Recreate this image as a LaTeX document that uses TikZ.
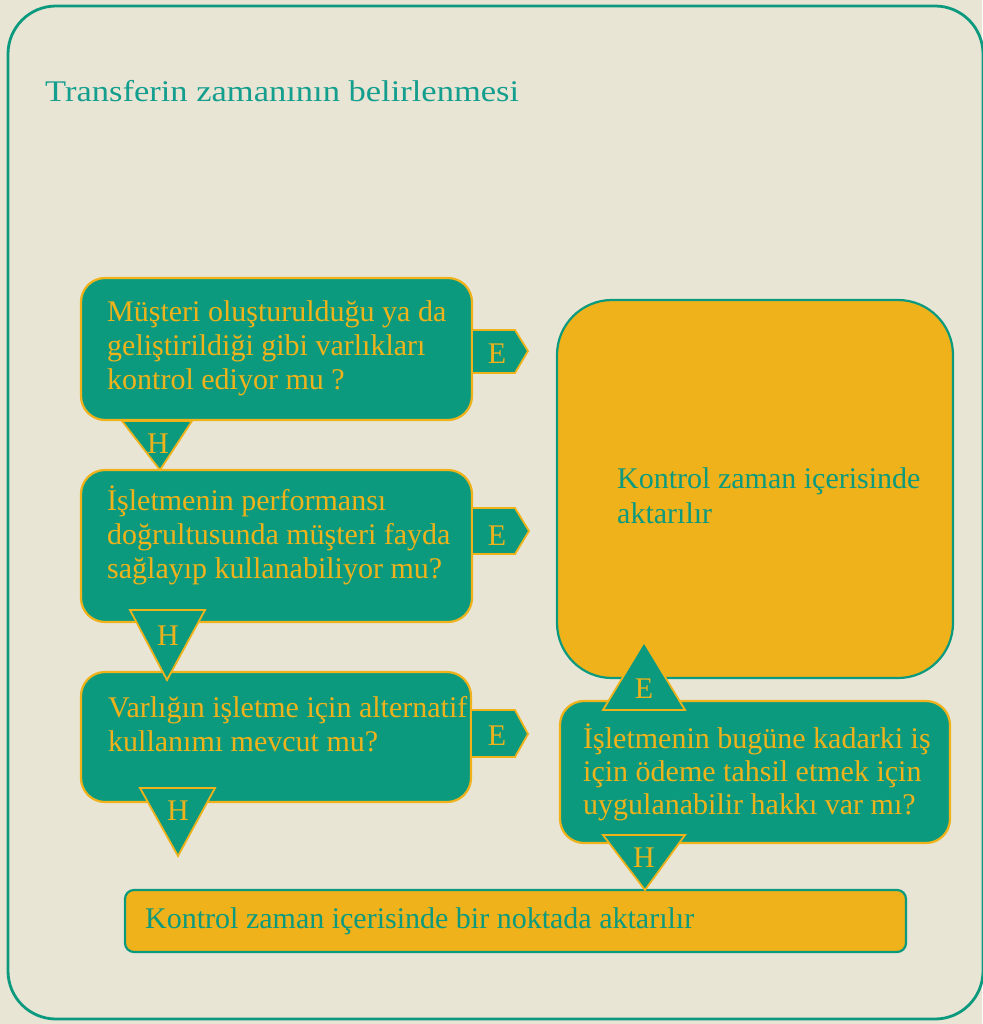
\documentclass[tikz,border=0pt]{standalone}
\usepackage{fontspec}
\setmainfont{Liberation Serif}
\newfontfamily\titlefont[FakeStretch=1.15]{Liberation Serif}
\definecolor{bg}{HTML}{E9E5D5}
\definecolor{tealc}{HTML}{0C9A7F}
\definecolor{titlec}{HTML}{139E8E}
\definecolor{gold}{HTML}{EFB21A}
\begin{document}
\begin{tikzpicture}[x=1pt,y=-1pt,
  qbox/.style={draw=gold, fill=tealc, line width=2.2pt, rounded corners=24pt, inner sep=0pt},
  abox/.style={draw=tealc, fill=gold, line width=2.2pt, inner sep=0pt},
  qtext/.style={text=gold, font=\fontsize{30}{34}\selectfont, align=left, anchor=base west, inner sep=0pt},
  atext/.style={text=tealc, font=\fontsize{30}{35}\selectfont, align=left, anchor=base west, inner sep=0pt},
  tagshape/.style={draw=gold, fill=tealc, line width=1.8pt, line join=miter},
  tagtext/.style={text=gold, font=\fontsize{30}{30}\selectfont, inner sep=0pt, anchor=base}
]
\fill[bg] (0,0) rectangle (982,1024);
\useasboundingbox (0,0) rectangle (982,1024);
\draw[tealc, line width=2.8pt, rounded corners=48pt] (8,6) rectangle (983,1019);

\node[text=titlec, font=\titlefont\fontsize{30}{30}\selectfont, anchor=base west, inner sep=0pt] (title) at (45,102) {Transferin zamanının belirlenmesi};

% answer boxes
\node[abox, rounded corners=55pt, minimum width=396pt, minimum height=378pt] (a1) at (755,489) {};
\node[abox, rounded corners=9pt, minimum width=781pt, minimum height=62pt] (a2) at (515.5,921) {};
\node[atext] (a1t) at (617,523) {Kontrol zaman içerisinde\\aktarılır};
\node[atext] (a2t) at (145,928) {Kontrol zaman içerisinde bir noktada aktarılır};

% question boxes
\node[qbox, minimum width=391pt, minimum height=142pt] (q1) at (276.5,349) {};
\node[qbox, minimum width=391pt, minimum height=152pt] (q2) at (276.5,546) {};
\node[qbox, minimum width=390pt, minimum height=130pt] (q3) at (276,737) {};
\node[qbox, minimum width=390pt, minimum height=142pt] (q4) at (755,772) {};
\node[qtext] (q1t) at (107,389) {Müşteri oluşturulduğu ya da\\geliştirildiği gibi varlıkları\\kontrol ediyor mu ?};
\node[qtext] (q2t) at (107,578) {İşletmenin performansı\\doğrultusunda müşteri fayda\\sağlayıp kullanabiliyor mu?};
\node[qtext] (q3t) at (108,751) {Varlığın işletme için alternatif\\kullanımı mevcut mu?};
\node[qtext, font=\fontsize{30}{33}\selectfont] (q4t) at (583,814) {İşletmenin bugüne kadarki iş\\için ödeme tahsil etmek için\\uygulanabilir hakkı var mı?};

% E tags (yes) to the right
\draw[tagshape] (q1.east|-0,330) -- (515,330) -- (528,351) -- (515,373) -- (q1.east|-0,373);
\node[tagtext] (e1) at (497,363) {E};
\draw[tagshape] (q2.east|-0,508) -- (515,508) -- (529,531) -- (515,554) -- (q2.east|-0,554);
\node[tagtext] (e2) at (497,545) {E};
\draw[tagshape] (q3.east|-0,710) -- (515,710) -- (528,734) -- (515,757) -- (q3.east|-0,757);
\node[tagtext] (e3) at (497,745) {E};

% H triangles (no) downward
\draw[tagshape] (122,421) -- (192,421) -- (160,470) -- cycle;
\node[tagtext] (h1) at (158,453) {H};
\draw[tagshape] (130,610) -- (205,610) -- (167,680) -- cycle;
\node[tagtext] (h2) at (168,645) {H};
\draw[tagshape] (140,788) -- (215,788) -- (178,856) -- cycle;
\node[tagtext] (h3) at (178,820) {H};
\draw[tagshape] (603,835) -- (685,835) -- (645,890) -- cycle;
\node[tagtext] (h4) at (644,867) {H};

% E triangle upward
\draw[tagshape] (603,710) -- (685,710) -- (644,642) -- cycle;
\node[tagtext] (e4) at (644,698) {E};
\end{tikzpicture}
\end{document}
